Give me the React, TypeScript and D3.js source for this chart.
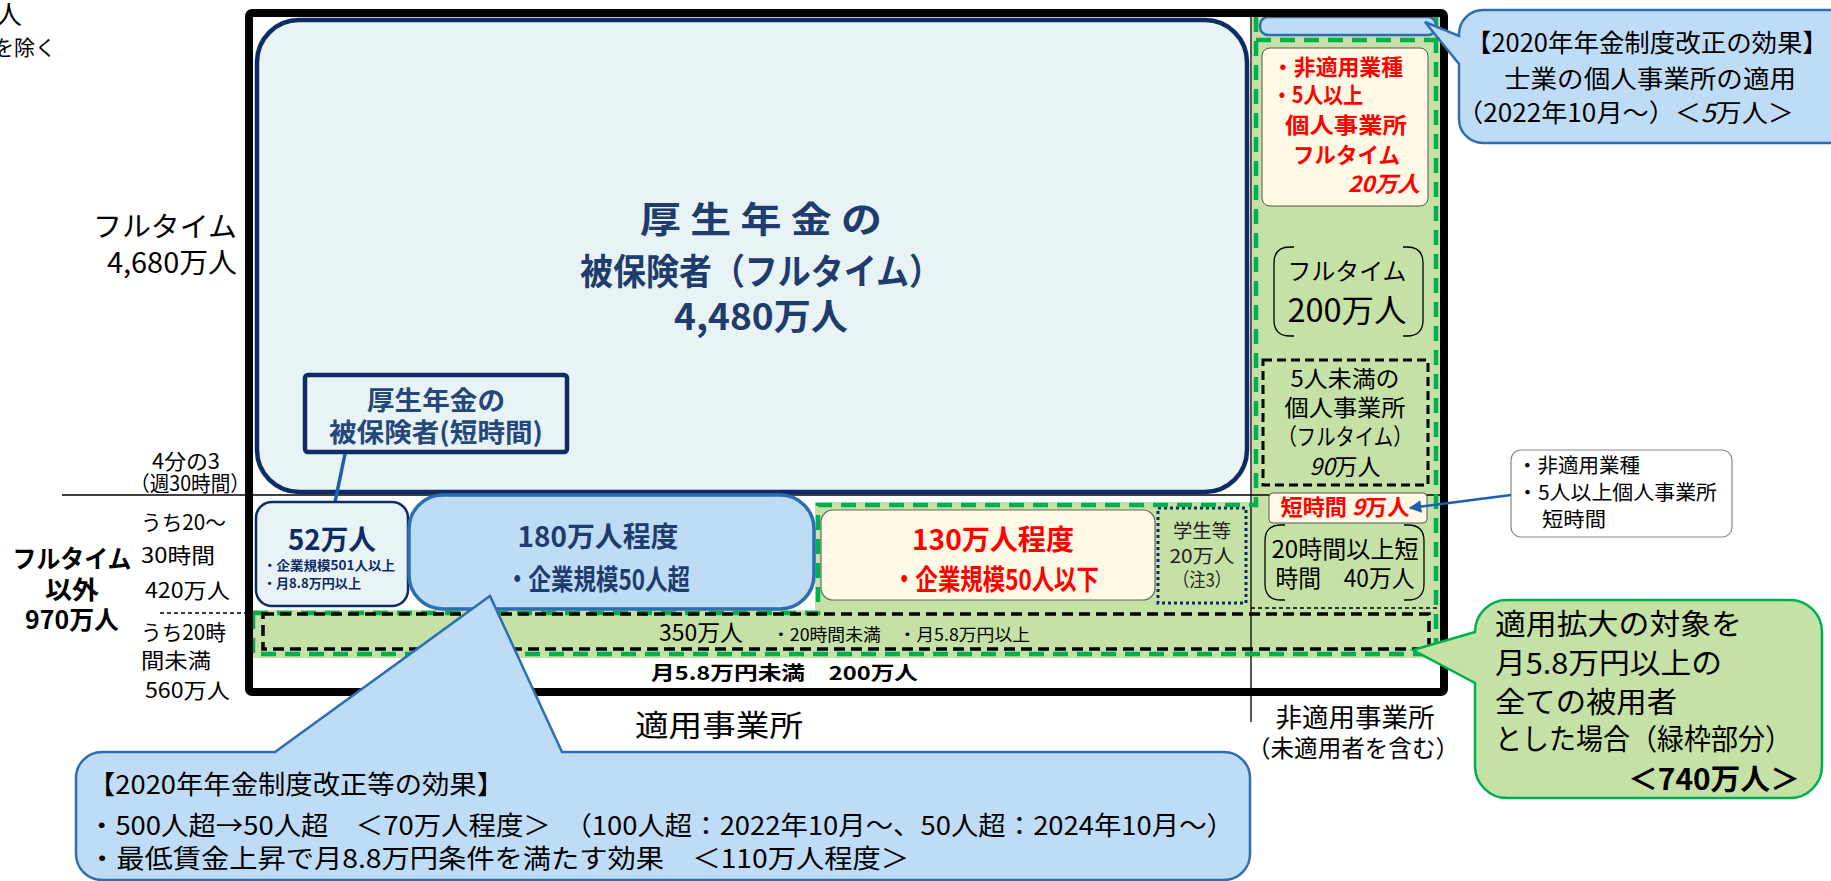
import React from 'react'
import * as d3 from 'd3'

// ---- text and values ----
const cutOffTitle = ['人', 'を除く']
const fullTimeTotal = ['フルタイム', '4,680万人']
const hoursThreshold = ['4分の3', '（週30時間）']
const partTimeTotal = ['フルタイム', '以外', '970万人']
const partTimeBands = [
  ['うち20～', '30時間', '420万人'],
  ['うち20時', '間未満', '560万人'],
]
const establishmentLabels = [['適用事業所'], ['非適用事業所', '（未適用者を含む）']]
const insuredFullTime = ['厚 生 年 金 の', '被保険者（フルタイム）', '4,480万人']
const insuredShortTitle = ['厚生年金の', '被保険者(短時間)']
const insuredShort = ['52万人', '・企業規模501人以上', '・月8.8万円以上']
const over50 = ['180万人程度', '・企業規模50人超']
const upTo50 = ['130万人程度', '・企業規模50人以下']
const students = ['学生等', '20万人', '（注3）']
const under20h = ['350万人', '・20時間未満　・月5.8万円以上']
const belowWage = ['月5.8万円未満　200万人']
const nonAppIndustry = ['・非適用業種', '・5人以上', '個人事業所', 'フルタイム', '*20万人*']
const nonAppFullTime = ['フルタイム', '200万人']
const smallSoleProp = ['5人未満の', '個人事業所', '（フルタイム）', '*90*万人']
const nonAppShort = ['短時間 *9*万人']
const nonAppOver20 = ['20時間以上短', '時間　40万人']
const professionalsReform = ['【2020年年金制度改正の効果】', '士業の個人事業所の適用', '（2022年10月～）＜*5*万人＞']
const shortNote = ['・非適用業種', '・5人以上個人事業所', '短時間']
const expansionNote = ['適用拡大の対象を', '月5.8万円以上の', '全ての被用者', 'とした場合（緑枠部分）', '＜740万人＞']
const reformEffects = [
  '【2020年年金制度改正等の効果】',
  '・500人超→50人超　＜70万人程度＞　（100人超：2022年10月～、50人超：2024年10月～）',
  '・最低賃金上昇で月8.8万円条件を満たす効果　＜110万人程度＞',
]

// ---- styling ----
const W = 1831, H = 881
const FONT = "'Noto Sans CJK JP', 'Noto Sans', sans-serif"
const NAVY = '#0f2b66'
const DEEP = '#203c6c'
const PALE = '#e7f3f4'
const SKY = '#bfdcf7'
const SKY_LINE = '#2e6db4'
const GREEN_FILL = '#c5e1a5'
const GREEN = '#00b050'
const CREAM = '#fff9e6'
const RED = '#ff0000'
const ARROW = '#1f5fae'

// rounded box with a triangular pointer on its left or top side
function bubble(x, y, w, h, r, side, b1, b2, tx, ty) {
  const p = d3.path()
  p.moveTo(x + r, y)
  if (side === 'top') { p.lineTo(b1, y); p.lineTo(tx, ty); p.lineTo(b2, y) }
  p.lineTo(x + w - r, y)
  p.arcTo(x + w, y, x + w, y + r, r)
  p.lineTo(x + w, y + h - r)
  p.arcTo(x + w, y + h, x + w - r, y + h, r)
  p.lineTo(x + r, y + h)
  p.arcTo(x, y + h, x, y + h - r, r)
  if (side === 'left') { p.lineTo(x, b2); p.lineTo(tx, ty); p.lineTo(x, b1) }
  p.lineTo(x, y + r)
  p.arcTo(x, y, x + r, y, r)
  p.closePath()
  return p.toString()
}

// "( )" style side brackets
function brackets(x, y, w, h, r) {
  const p = d3.path()
  p.moveTo(x + r + 4, y); p.lineTo(x + r, y)
  p.quadraticCurveTo(x, y, x, y + r); p.lineTo(x, y + h - r)
  p.quadraticCurveTo(x, y + h, x + r, y + h); p.lineTo(x + r + 4, y + h)
  p.moveTo(x + w - r - 4, y); p.lineTo(x + w - r, y)
  p.quadraticCurveTo(x + w, y, x + w, y + r); p.lineTo(x + w, y + h - r)
  p.quadraticCurveTo(x + w, y + h, x + w - r, y + h); p.lineTo(x + w - r - 4, y + h)
  return p.toString()
}

// text line, *...* parts set in italics
function Rich({ x, y, s, a = 'start', b = false, c = '#000', len = undefined, txt }) {
  const parts = txt.split('*')
  return (
    <text x={x} y={y} fontSize={s} textAnchor={a} fontWeight={b ? 700 : 400} fill={c}
      textLength={len} lengthAdjust={len ? 'spacingAndGlyphs' : undefined}>
      {parts.map((p, i) => <tspan key={i} fontStyle={i % 2 ? 'italic' : 'normal'}>{p}</tspan>)}
    </text>
  )
}

function Lines({ lines, x, ys, s, a = 'start', b = false, c = '#000', lens = [] }) {
  return (
    <>
      {lines.map((t, i) => (
        <Rich key={i} txt={t} x={Array.isArray(x) ? x[i] : x} y={ys[i]} s={s} a={a} b={b} c={c} len={lens[i]} />
      ))}
    </>
  )
}

export default function App() {
  const greenOutline = d3.line()([[253, 613], [818, 613], [818, 505], [1256, 505], [1256, 17], [1436, 17], [1436, 654], [253, 654]]) + 'Z'
  const greenArea = d3.line()([[250, 610], [815, 610], [815, 502], [1252, 502], [1252, 17], [1440, 17], [1440, 658], [250, 658]]) + 'Z'

  return (
    <svg width={W} height={H} viewBox={`0 0 ${W} ${H}`} fontFamily={FONT}
      style={{ position: 'absolute', left: 0, top: 0, background: '#fff' }}>
      <defs>
        <marker id="arr" viewBox="0 0 10 10" refX="9" refY="5" markerWidth="5" markerHeight="5" orient="auto">
          <path d="M0,0L10,5L0,10Z" fill={ARROW} />
        </marker>
      </defs>

      {/* cut-off heading */}
      <Rich txt={cutOffTitle[0]} x={22} y={24} s={26} a="end" />
      <Rich txt={cutOffTitle[1]} x={56} y={55} s={21} a="end" />

      {/* row labels */}
      <Lines lines={fullTimeTotal} x={237} ys={[237, 273]} s={28} a="end" lens={[144, 130]} />
      <Lines lines={hoursThreshold} x={[186, 190]} ys={[469, 491]} s={21} a="middle" lens={[68, 120]} />
      <Lines lines={partTimeTotal} x={72} ys={[568, 599, 629]} s={25} a="middle" b lens={[119, 54, 94]} />
      <Lines lines={partTimeBands[0]} x={[141, 141, 145]} ys={[530, 563, 598]} s={21} lens={[85, 74, 85]} />
      <Lines lines={partTimeBands[1]} x={[141, 141, 145]} ys={[640, 668, 698]} s={21} lens={[85, 70, 85]} />

      {/* green expansion area fill */}
      <path d={greenArea} fill={GREEN_FILL} />

      {/* grid lines */}
      <line x1={62} x2={1444} y1={495} y2={495} stroke="#000" strokeWidth={1.3} />
      <line x1={160} x2={249} y1={613} y2={613} stroke="#000" strokeWidth={1.5} strokeDasharray="4 3" />
      <line x1={1251} x2={1251} y1={13} y2={722} stroke="#000" strokeWidth={1.3} />
      <line x1={1251} x2={1440} y1={608} y2={608} stroke="#000" strokeWidth={1.5} strokeDasharray="4 3" />

      {/* insured full time */}
      <rect x={257} y={20} width={990} height={472} rx={42} fill={PALE} stroke={NAVY} strokeWidth={4.5} />
      <Lines lines={insuredFullTime} x={761} ys={[233, 285, 330]} s={36} a="middle" b c={DEEP} lens={[242, 362, 174]} />

      {/* insured short-time label */}
      <rect x={305} y={375} width={262} height={77} rx={3} fill={PALE} stroke={NAVY} strokeWidth={4.5} />
      <Lines lines={insuredShortTitle} x={436} ys={[410, 442]} s={26} a="middle" b c="#25477c" lens={[138, 214]} />
      <line x1={345} y1={454} x2={335} y2={502} stroke={ARROW} strokeWidth={3.5} />

      <rect x={256} y={502} width={152} height={104} rx={16} fill={PALE} stroke={NAVY} strokeWidth={2.5} />
      <Rich txt={insuredShort[0]} x={332} y={550} s={28} a="middle" b c={NAVY} len={88} />
      <Rich txt={insuredShort[1]} x={263} y={570} s={13} b c={NAVY} len={132} />
      <Rich txt={insuredShort[2]} x={263} y={588} s={13} b c={NAVY} len={98} />

      <rect x={409} y={495} width={405} height={114} rx={34} fill={SKY} stroke={SKY_LINE} strokeWidth={3.5} />
      <Lines lines={over50} x={598} ys={[547, 590]} s={28} a="middle" b c={DEEP} lens={[161, 184]} />

      {/* small firms */}
      <rect x={821} y={510} width={334} height={90} rx={12} fill={CREAM} stroke="#666" strokeWidth={1.2} />
      <Lines lines={upTo50} x={[993, 996]} ys={[550, 590]} s={28} a="middle" b c={RED} lens={[162, 206]} />
      <rect x={1158} y={508} width={88} height={95} fill="none" stroke={NAVY} strokeWidth={3} strokeDasharray="3 3" />
      <Lines lines={students} x={1202} ys={[538, 563, 587]} s={19} a="middle" c="#222" lens={[58, 65, 58]} />

      {/* under 20 hours strip */}
      <path d={greenOutline} fill="none" stroke={GREEN} strokeWidth={4.5} strokeDasharray="15 9" />
      <line x1={1256} x2={1436} y1={40} y2={40} stroke={GREEN} strokeWidth={4.5} strokeDasharray="15 9" />
      <rect x={263} y={614} width={1166} height={35} fill="none" stroke="#000" strokeWidth={3.5} strokeDasharray="11 6" />
      <Rich txt={under20h[0]} x={659} y={641} s={23} len={84} />
      <Rich txt={under20h[1]} x={772} y={641} s={17} len={258} />
      <Rich txt={belowWage[0]} x={651} y={680} s={19} b len={267} />

      {/* non-applicable establishments column */}
      <rect x={1260} y={17} width={176} height={18} rx={8} fill={SKY} stroke={SKY_LINE} strokeWidth={2.5} />
      <rect x={1262} y={48} width={166} height={158} rx={8} fill={CREAM} stroke="#555" strokeWidth={1} />
      <Lines lines={nonAppIndustry.slice(0, 4)} x={[1272, 1272, 1285, 1293]} ys={[75, 103, 133, 163]} s={22} b c={RED}
        lens={[131, 91, 122, 107]} />
      <Rich txt={nonAppIndustry[4]} x={1420} y={192} s={22} a="end" b c={RED} len={72} />

      <path d={brackets(1274, 247, 149, 89, 16)} fill="none" stroke="#000" strokeWidth={1.3} />
      <Rich txt={nonAppFullTime[0]} x={1347} y={280} s={24} a="middle" len={119} />
      <Rich txt={nonAppFullTime[1]} x={1347} y={322} s={32} a="middle" len={119} />

      <rect x={1263} y={360} width={165} height={125} fill="none" stroke="#000" strokeWidth={3} strokeDasharray="9 5" />
      <Lines lines={smallSoleProp} x={1345} ys={[387, 416, 445, 475]} s={23} a="middle" lens={[109, 121, 135, 71]} />

      <rect x={1269} y={493} width={158} height={30} rx={4} fill={CREAM} stroke="#555" strokeWidth={1} />
      <Rich txt={nonAppShort[0]} x={1345} y={515} s={22} a="middle" b c={RED} len={129} />
      <path d={brackets(1265, 525, 159, 75, 16)} fill="none" stroke="#000" strokeWidth={1.3} />
      <Lines lines={nonAppOver20} x={1345} ys={[558, 587]} s={24} a="middle" lens={[147, 139]} />

      {/* frame */}
      <rect x={249} y={13} width={1195} height={679} rx={3} fill="none" stroke="#000" strokeWidth={8} />

      {/* column labels */}
      <Rich txt={establishmentLabels[0][0]} x={719} y={736} s={30} a="middle" len={168} />
      <Rich txt={establishmentLabels[1][0]} x={1355} y={727} s={26} a="middle" len={159} />
      <Rich txt={establishmentLabels[1][1]} x={1353} y={757} s={24} a="middle" len={212} />

      {/* callout: professionals */}
      <path d={bubble(1459, 10, 400, 133, 24, 'left', 36, 64, 1425, 22)} fill={SKY} stroke={SKY_LINE} strokeWidth={2.5} />
      <Rich txt={professionalsReform[0]} x={1466} y={52} s={25} len={362} />
      <Rich txt={professionalsReform[1]} x={1504} y={88} s={25} len={292} />
      <Rich txt={professionalsReform[2]} x={1457} y={122} s={25} len={337} />

      {/* callout: short-time note */}
      <rect x={1511} y={450} width={221} height={87} rx={10} fill="#fff" stroke="#888" strokeWidth={1.2} />
      <Lines lines={shortNote} x={[1517, 1517, 1542]} ys={[473, 500, 527]} s={20} lens={[123, 200, 64]} />
      <line x1={1511} y1={495} x2={1410} y2={508} stroke={ARROW} strokeWidth={2.5} markerEnd="url(#arr)" />

      {/* callout: expansion target */}
      <path d={bubble(1475, 600, 347, 198, 32, 'left', 632, 683, 1413, 650)} fill={GREEN_FILL} stroke={GREEN} strokeWidth={2.5} />
      <Lines lines={expansionNote.slice(0, 4)} x={1495} ys={[635, 674, 713, 750]} s={29} lens={[247, 227, 182, 297]} />
      <Rich txt={expansionNote[4]} x={1800} y={790} s={29} a="end" b len={172} />

      {/* callout: 2020 reform effects */}
      <path d={bubble(76, 752, 1174, 128, 26, 'top', 275, 562, 490, 596)} fill={SKY} stroke={SKY_LINE} strokeWidth={2.5} />
      <Lines lines={reformEffects} x={88} ys={[794, 835, 868]} s={26} lens={[416, 1146, 821]} />
    </svg>
  )
}
